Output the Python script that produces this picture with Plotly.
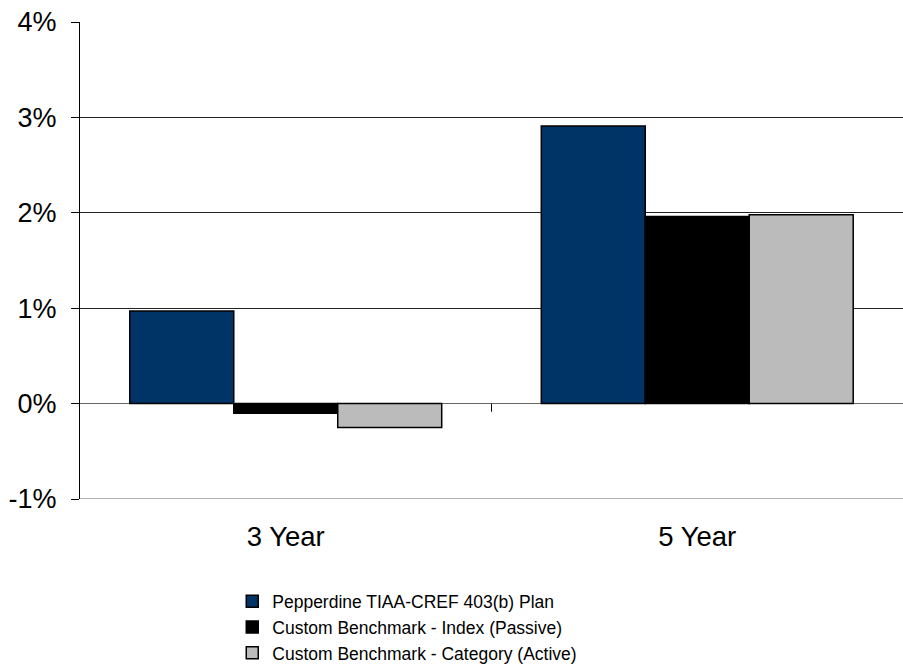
import plotly.graph_objects as go

# Annualized returns by period
periods = ["3 Year", "5 Year"]
series_names = [
    "Pepperdine TIAA-CREF 403(b) Plan",
    "Custom Benchmark - Index (Passive)",
    "Custom Benchmark - Category (Active)",
]
plan_returns = [0.97, 2.91]
index_returns = [-0.10, 1.96]
category_returns = [-0.25, 1.98]

y_tick_values = [-1, 0, 1, 2, 3, 4]
y_tick_labels = ["-1%", "0%", "1%", "2%", "3%", "4%"]

colors = ["#003366", "#000000", "#BBBBBB"]
values = [plan_returns, index_returns, category_returns]

FONT = "Liberation Sans, Arial, sans-serif"

fig = go.Figure()
for name, vals, col in zip(series_names, values, colors):
    fig.add_trace(go.Bar(
        x=periods, y=vals, name=name,
        marker=dict(color=col, line=dict(color="#000000", width=1.5)),
    ))

fig.update_layout(
    width=903, height=670,
    margin=dict(l=80, r=0, t=22, b=171, autoexpand=False),
    paper_bgcolor="white", plot_bgcolor="white",
    barmode="group", bargap=0.242, bargroupgap=0,
    font=dict(family=FONT, color="#000000"),
    showlegend=True,
    legend=dict(
        x=0.185, y=-0.177, xanchor="left", yanchor="top",
        font=dict(size=17.5, family=FONT),
        bgcolor="rgba(0,0,0,0)",
        tracegroupgap=0,
    ),
)

fig.update_yaxes(
    range=[-1, 4], tickvals=y_tick_values, ticktext=y_tick_labels,
    showgrid=True, gridcolor="#222222", gridwidth=1,
    zeroline=True, zerolinecolor="#666666", zerolinewidth=1,
    showline=True, linecolor="#000000", linewidth=1,
    ticks="outside", ticklen=8, tickcolor="#000000",
    tickfont=dict(size=27, family=FONT),
    ticklabelstandoff=9, automargin=False,
    fixedrange=True,
)
fig.update_xaxes(
    showgrid=False, showline=False, zeroline=False,
    tickfont=dict(size=27.5, family=FONT),
    ticks="", ticklabelstandoff=18, automargin=False,
)

# bottom border at -1% in grey, and category divider tick on the zero line
fig.add_shape(type="line", xref="paper", yref="y", x0=0, x1=1, y0=-1, y1=-1,
              line=dict(color="#666666", width=1))
fig.add_shape(type="line", xref="x", yref="y", x0=0.5, x1=0.5, y0=0, y1=-0.085,
              line=dict(color="#000000", width=1))

fig.write_html("out.html")
